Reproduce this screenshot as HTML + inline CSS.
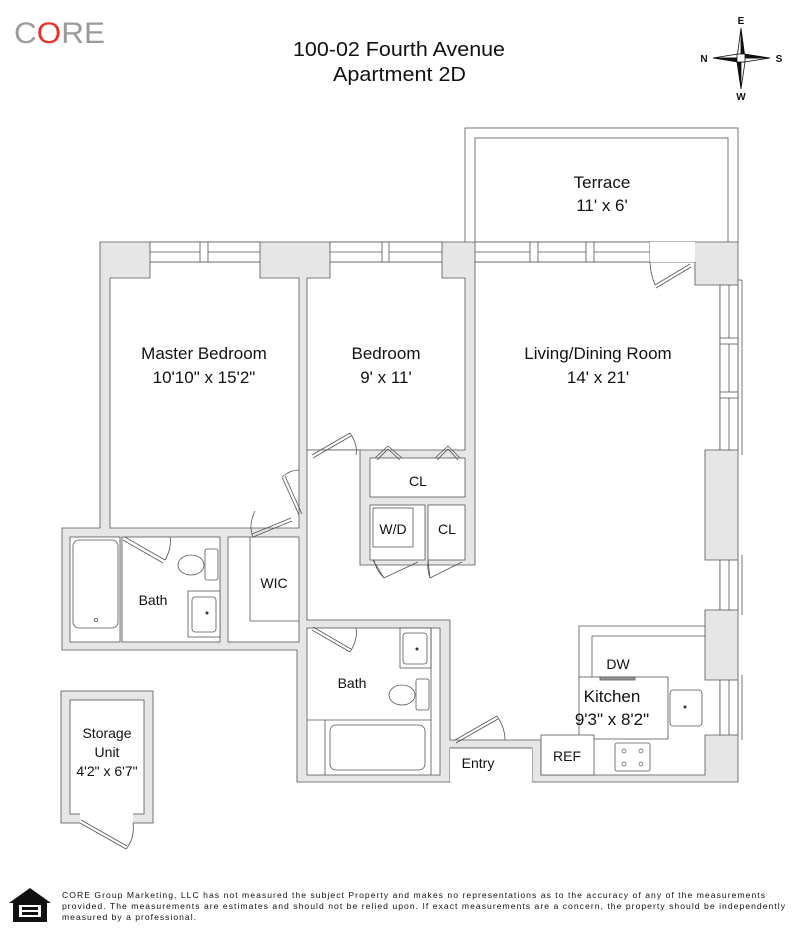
<!DOCTYPE html>
<html><head><meta charset="utf-8"><style>
html,body{margin:0;padding:0;background:#fff;width:800px;height:943px;overflow:hidden}
svg{display:block}
text{font-family:"Liberation Sans",Arial,sans-serif;fill:#111}
</style></head><body>
<svg width="800" height="943" viewBox="0 0 800 943" xmlns="http://www.w3.org/2000/svg">
<!-- header -->
<text x="14" y="43" font-size="30" style="fill:#9a9a9a" textLength="91" lengthAdjust="spacingAndGlyphs">C<tspan style="fill:#e8302a">O</tspan>RE</text>
<text x="293" y="56" font-size="20" textLength="212" lengthAdjust="spacingAndGlyphs">100-02 Fourth Avenue</text>
<text x="333" y="81" font-size="20" textLength="133" lengthAdjust="spacingAndGlyphs">Apartment 2D</text>
<!-- compass -->
<g stroke="#111" stroke-width="0.8">
<polygon points="741,28 745,58 741,58" fill="#111"/><polygon points="741,28 737,58 741,58" fill="#fff"/>
<polygon points="741,89 737,62 741,62" fill="#111"/><polygon points="741,89 745,62 741,62" fill="#fff"/>
<polygon points="713,58 738,54 738,58" fill="#fff"/><polygon points="713,58 738,62 738,58" fill="#111"/>
<polygon points="770,58 744,62 744,58" fill="#fff"/><polygon points="770,58 744,54 744,58" fill="#111"/>
<rect x="737" y="54" width="8" height="8" fill="#fff"/>
</g>
<text x="741" y="24" font-size="10" font-weight="bold" text-anchor="middle" font-family="Liberation Serif">E</text>
<text x="741" y="100" font-size="10" font-weight="bold" text-anchor="middle" font-family="Liberation Serif">W</text>
<text x="704" y="62" font-size="10" font-weight="bold" text-anchor="middle" font-family="Liberation Serif">N</text>
<text x="779" y="62" font-size="10" font-weight="bold" text-anchor="middle" font-family="Liberation Serif">S</text>

<g stroke="#555" stroke-width="0.8">
<rect x="465" y="128" width="273" height="115" fill="#fff"/>
<rect x="475" y="138" width="253" height="105" fill="#fff"/>
<polygon points="100,242 738,242 738,782 532,782 532,748 450,748 450,782 297,782 297,650 62,650 62,528 100,528" fill="#e6e6e6"/>
<polygon points="110,278 150,278 150,262 260,262 260,278 299,278 299,528 110,528" fill="#fff"/>
<polygon points="307,278 330,278 330,262 442,262 442,278 465,278 465,450 307,450" fill="#fff"/>
<polygon points="307,450 360,450 360,565 475,565 475,262 695,262 695,285 720,285 720,450 705,450 705,560 720,560 720,610 705,610 705,680 720,680 720,735 705,735 705,775 541,775 541,740 450,740 450,620 307,620" fill="#fff"/>
<rect x="370" y="458" width="95" height="39" fill="#fff"/>
<rect x="370" y="505" width="55" height="55" fill="#fff"/>
<rect x="428" y="505" width="37" height="55" fill="#fff"/>
<rect x="70" y="537" width="50" height="105" fill="#fff"/>
<rect x="122" y="537" width="98" height="105" fill="#fff"/>
<rect x="228" y="537" width="71" height="105" fill="#fff"/>
<rect x="307" y="628" width="133" height="147" fill="#fff"/>
<rect x="450" y="748" width="82" height="34" fill="#fff" stroke="none"/>
<line x1="450" y1="748" x2="532" y2="748"/>
<rect x="150" y="242" width="110" height="20" fill="#fff"/>
<line x1="150" y1="252" x2="260" y2="252"/>
<rect x="330" y="242" width="112" height="20" fill="#fff"/>
<line x1="330" y1="252" x2="442" y2="252"/>
<rect x="475" y="242" width="175" height="20" fill="#fff"/>
<line x1="475" y1="252" x2="650" y2="252"/>
<rect x="650" y="242" width="45" height="20" fill="#fff" stroke="none"/>
<rect x="200" y="242" width="8" height="20" fill="#fff"/><rect x="382" y="242" width="7" height="20" fill="#fff"/>
<rect x="530" y="242" width="8" height="20" fill="#fff"/><rect x="586" y="242" width="8" height="20" fill="#fff"/>
<rect x="720" y="285" width="18" height="165" fill="#fff"/><line x1="729" y1="285" x2="729" y2="450"/>
<rect x="720" y="560" width="18" height="50" fill="#fff"/><line x1="729" y1="560" x2="729" y2="610"/>
<rect x="720" y="680" width="18" height="55" fill="#fff"/><line x1="729" y1="680" x2="729" y2="735"/>
<rect x="720" y="338" width="18" height="6" fill="#fff"/><rect x="720" y="392" width="18" height="6" fill="#fff"/>
<line x1="738" y1="280" x2="742" y2="280"/><line x1="742" y1="280" x2="742" y2="455"/>
<line x1="742" y1="555" x2="742" y2="615"/><line x1="742" y1="675" x2="742" y2="740"/>
<rect x="73" y="540" width="45" height="88" rx="6" fill="#fff"/>
<circle cx="96" cy="620" r="1.6" fill="#fff"/>
<ellipse cx="191" cy="565" rx="13" ry="10" fill="#fff"/>
<rect x="205" y="549" width="13" height="31" rx="2" fill="#fff"/>
<rect x="188" y="591" width="32" height="46" fill="#fff"/>
<rect x="192" y="597" width="24" height="35" rx="3" fill="#fff"/>
<line x1="250" y1="537" x2="250" y2="621"/><line x1="250" y1="621" x2="299" y2="621"/>
<rect x="373" y="508" width="40" height="39" fill="#fff"/>
<rect x="400" y="628" width="31" height="40" fill="#fff"/>
<rect x="403" y="633" width="24" height="31" rx="3" fill="#fff"/>
<ellipse cx="402" cy="695" rx="13" ry="10" fill="#fff"/>
<rect x="416" y="679" width="13" height="31" rx="2" fill="#fff"/>
<line x1="307" y1="720" x2="431" y2="720"/><line x1="325" y1="720" x2="325" y2="775"/><line x1="431" y1="628" x2="431" y2="775"/>
<rect x="330" y="725" width="95" height="45" rx="6" fill="#fff"/>
<polyline points="579,677 579,626 705,626" fill="none"/>
<polyline points="592,677 592,636 705,636" fill="none"/>
<rect x="579" y="677" width="89" height="62" fill="#fff"/>
<rect x="541" y="735" width="53" height="40" fill="#fff"/>
<rect x="615" y="743" width="35" height="28" rx="2" fill="#fff"/>
<rect x="670" y="690" width="32" height="36" rx="3" fill="#fff"/>
<rect x="600" y="677" width="35" height="3" fill="#999"/>
<rect x="61" y="691" width="92" height="132" fill="#e6e6e6"/>
<rect x="70" y="700" width="74" height="114" fill="#fff"/>
<rect x="80" y="813" width="53" height="12" fill="#fff" stroke="none"/>
</g>
<g stroke="#555" stroke-width="0.8" fill="none">
<path d="M80,823 L126,849 M81,820 L127,846 M126,849 Q135,838 133,823"/>
<path d="M125,537 L165,560 M123,540 L163,563 M165,560 Q172,548 170,537"/>
<path d="M253,537 L292,521 M252,534 L291,518 M253,537 Q248,525 255,511"/>
<path d="M299,515 L282,477 M302,514 L285,476 M282,477 Q290,470 299,470"/>
<path d="M312,455 L350,433 M313,458 L351,436 M350,433 Q358,445 356,455"/>
<path d="M375,458 L388,446 L402,458 M377,460 L388,449 L400,460"/>
<path d="M435,458 L448,446 L460,458 M437,460 L448,449 L458,460"/>
<path d="M373,560 L384,578 L418,562 M384,578 Q376,570 374,560"/>
<path d="M428,560 L430,578 L462,562 M430,578 Q427,570 428,560"/>
<path d="M312,630 L350,652 M313,627 L351,649 M350,652 Q358,640 356,628"/>
<path d="M455,740 L497,716 M456,743 L498,719 M497,716 Q505,728 505,740"/>
<path d="M655,285 L690,264 M656,288 L691,267 M655,285 Q650,272 650,262"/>
</g>
<g fill="#333"><circle cx="207" cy="613" r="1.5"/><circle cx="417" cy="649" r="1.5"/><circle cx="685" cy="707" r="1.5"/></g>
<g stroke="#555" stroke-width="0.7" fill="#fff"><circle cx="624" cy="751" r="2"/><circle cx="641" cy="751" r="2"/><circle cx="624" cy="764" r="2"/><circle cx="641" cy="764" r="2"/></g>
<g font-size="17" text-anchor="middle">
<text x="204" y="359">Master Bedroom</text><text x="204" y="383">10'10" x 15'2"</text>
<text x="386" y="359">Bedroom</text><text x="386" y="383">9' x 11'</text>
<text x="598" y="359">Living/Dining Room</text><text x="598" y="383">14' x 21'</text>
<text x="602" y="188">Terrace</text><text x="602" y="211">11' x 6'</text>
<text x="612" y="702">Kitchen</text><text x="612" y="725">9'3" x 8'2"</text>
</g>
<g font-size="14" text-anchor="middle">
<text x="418" y="486">CL</text><text x="393" y="534">W/D</text><text x="447" y="534">CL</text>
<text x="274" y="588">WIC</text><text x="153" y="605">Bath</text><text x="352" y="688">Bath</text>
<text x="618" y="669">DW</text><text x="567" y="761">REF</text><text x="478" y="768">Entry</text>
<text x="107" y="738">Storage</text><text x="107" y="757">Unit</text><text x="107" y="776">4'2" x 6'7"</text>
</g>
<polygon points="30,888 51,903 47,903 47,922 13,922 13,903 9,903" fill="#111"/>
<rect x="19" y="905" width="22" height="12" fill="#fff"/><rect x="22" y="907" width="16" height="3" fill="#111"/><rect x="22" y="912" width="16" height="3" fill="#111"/>
<g font-size="8.6" style="fill:#333">
<text x="62" y="898" textLength="703" lengthAdjust="spacing">CORE Group Marketing, LLC has not measured the subject Property and makes no representations as to the accuracy of any of the measurements</text>
<text x="62" y="909" textLength="723" lengthAdjust="spacing">provided. The measurements are estimates and should not be relied upon. If exact measurements are a concern, the property should be independently</text>
<text x="62" y="920" textLength="134" lengthAdjust="spacing">measured by a professional.</text>
</g>
</svg>
</body></html>
